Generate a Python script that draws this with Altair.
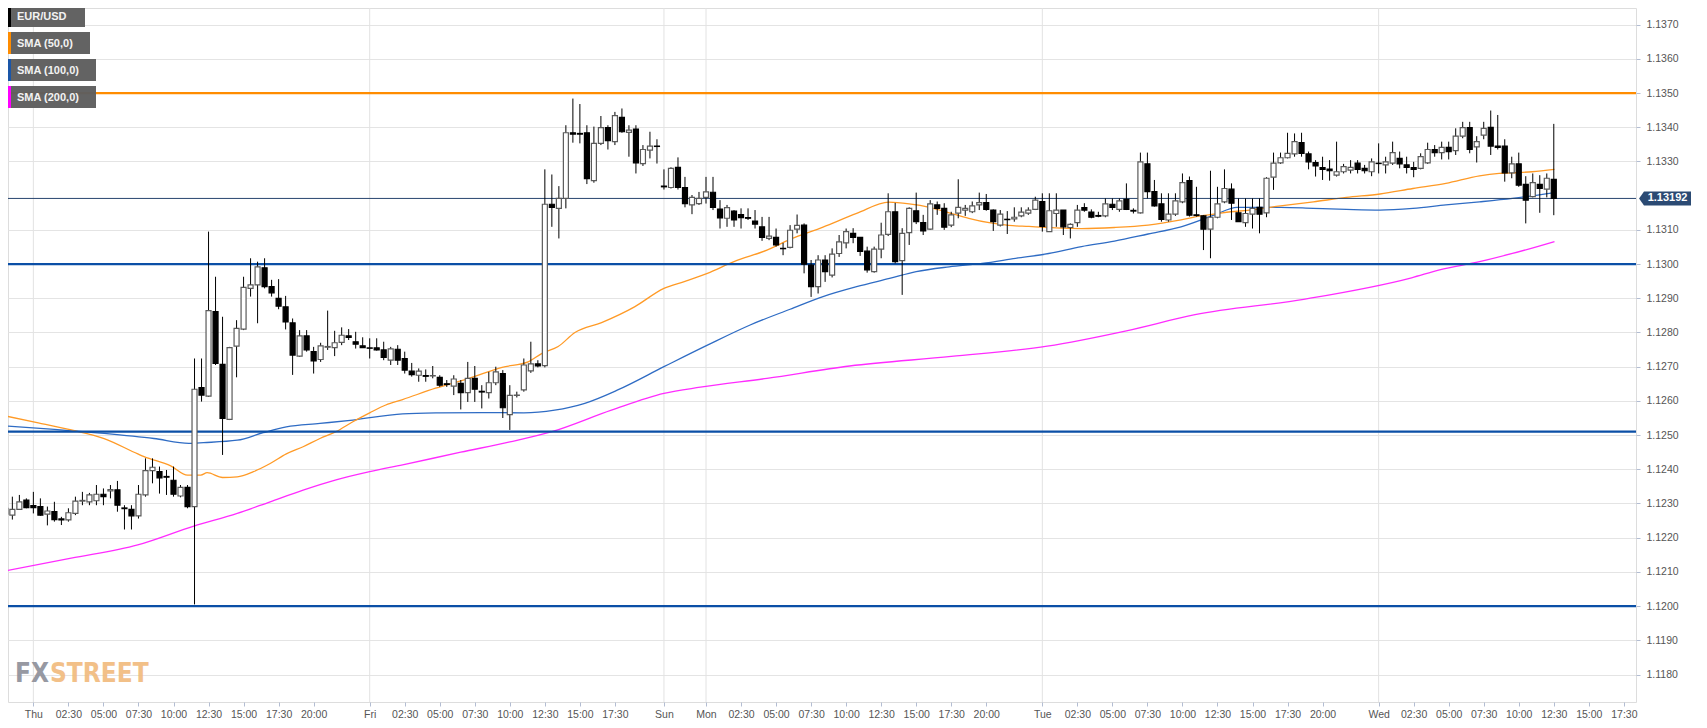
import altair as alt
import pandas as pd

# ---------------- data (30-minute EUR/USD candles) ----------------
OPEN = [1.12269,1.12266,1.12283,1.12310,1.12294,1.12291,1.12269,1.12276,1.12255,1.12252,
        1.12271,1.12307,1.12305,1.12308,1.12327,1.12337,1.12340,1.12287,1.12283,1.12264,
        1.12325,1.12396,1.12393,1.12379,1.12368,1.12322,1.12347,1.12291,1.12639,1.12614,
        1.12861,1.12707,1.12546,1.12760,1.12810,1.12929,1.12939,1.12989,1.12934,1.12900,
        1.12875,1.12828,1.12731,1.12790,1.12744,1.12721,1.12757,1.12756,1.12771,1.12790,
        1.12773,1.12761,1.12755,1.12755,1.12749,1.12719,1.12751,1.12724,1.12687,1.12675,
        1.12674,1.12673,1.12669,1.12650,1.12643,1.12651,1.12624,1.12666,1.12628,1.12624,
        1.12653,1.12680,1.12560,1.12616,1.12632,1.12688,1.12708,1.12703,1.13175,1.13163,
        1.13192,1.13384,1.13382,1.13384,1.13244,1.13353,1.13399,1.13358,1.13429,1.13385,
        1.13395,1.13294,1.13333,1.13345,1.13228,1.13224,1.13283,1.13224,1.13173,1.13177,
        1.13195,1.13210,1.13161,1.13134,1.13155,1.13145,1.13136,1.13126,1.13109,1.13075,
        1.13078,1.13046,1.13049,1.13102,1.13114,1.12997,1.12934,1.13012,1.12968,1.13031,
        1.13062,1.13090,1.13078,1.13038,1.12978,1.13044,1.13087,1.13153,1.13010,1.13092,
        1.13156,1.13121,1.13102,1.13173,1.13163,1.13114,1.13149,1.13158,1.13153,1.13173,
        1.13180,1.13158,1.13114,1.13131,1.13132,1.13141,1.13149,1.13160,1.13183,1.13095,
        1.13148,1.13158,1.13107,1.13121,1.13165,1.13152,1.13142,1.13141,1.13175,1.13160,
        1.13189,1.13157,1.13150,1.13293,1.13212,1.13176,1.13129,1.13146,1.13182,1.13244,
        1.13144,1.13141,1.13102,1.13137,1.13182,1.13219,1.13150,1.13121,1.13146,1.13166,
        1.13150,1.13254,1.13296,1.13311,1.13322,1.13355,1.13322,1.13297,1.13282,1.13278,
        1.13260,1.13270,1.13275,1.13295,1.13280,1.13270,1.13295,1.13290,1.13295,1.13309,
        1.13290,1.13282,1.13280,1.13296,1.13335,1.13326,1.13341,1.13332,1.13374,1.13399,
        1.13343,1.13377,1.13400,1.13345,1.13345,1.13267,1.13293,1.13233,1.13197,1.13233,
        1.13219,1.13248]
HIGH = [1.12295,1.12320,1.12325,1.12315,1.12334,1.12315,1.12291,1.12305,1.12261,1.12286,
        1.12320,1.12334,1.12331,1.12354,1.12344,1.12354,1.12366,1.12295,1.12295,1.12354,
        1.12432,1.12432,1.12408,1.12398,1.12408,1.12354,1.12354,1.12724,1.12724,1.13095,
        1.12963,1.12846,1.12758,1.12836,1.12963,1.13017,1.13007,1.13017,1.12954,1.12956,
        1.12907,1.12841,1.12807,1.12807,1.12758,1.12770,1.12864,1.12805,1.12815,1.12810,
        1.12802,1.12786,1.12783,1.12783,1.12773,1.12758,1.12763,1.12744,1.12711,1.12695,
        1.12692,1.12702,1.12675,1.12661,1.12675,1.12661,1.12714,1.12702,1.12646,1.12685,
        1.12700,1.12690,1.12646,1.12627,1.12724,1.12773,1.12719,1.13277,1.13262,1.13228,
        1.13406,1.13484,1.13468,1.13406,1.13402,1.13433,1.13406,1.13445,1.13455,1.13406,
        1.13406,1.13348,1.13387,1.13365,1.13277,1.13283,1.13312,1.13255,1.13202,1.13211,
        1.13255,1.13255,1.13187,1.13173,1.13158,1.13163,1.13163,1.13158,1.13138,1.13138,
        1.13104,1.13062,1.13114,1.13145,1.13119,1.13012,1.13026,1.13026,1.13046,1.13085,
        1.13104,1.13105,1.13078,1.13051,1.13051,1.13121,1.13207,1.13179,1.13105,1.13166,
        1.13209,1.13144,1.13187,1.13183,1.13178,1.13153,1.13248,1.13173,1.13183,1.13209,
        1.13205,1.13160,1.13158,1.13155,1.13166,1.13166,1.13166,1.13197,1.13207,1.13207,
        1.13207,1.13158,1.13119,1.13173,1.13178,1.13160,1.13153,1.13192,1.13192,1.13192,
        1.13236,1.13163,1.13326,1.13326,1.13246,1.13207,1.13207,1.13207,1.13265,1.13256,
        1.13226,1.13143,1.13273,1.13226,1.13277,1.13236,1.13192,1.13192,1.13192,1.13192,
        1.13254,1.13326,1.13326,1.13384,1.13382,1.13384,1.13329,1.13304,1.13314,1.13304,
        1.13358,1.13293,1.13304,1.13304,1.13290,1.13309,1.13353,1.13314,1.13358,1.13329,
        1.13314,1.13299,1.13324,1.13355,1.13348,1.13358,1.13358,1.13397,1.13416,1.13416,
        1.13374,1.13416,1.13449,1.13436,1.13365,1.13314,1.13326,1.13257,1.13265,1.13260,
        1.13265,1.13410]
LOW = [1.12256,1.12253,1.12281,1.12286,1.12271,1.12264,1.12236,1.12247,1.12237,1.12247,
       1.12266,1.12295,1.12295,1.12295,1.12295,1.12315,1.12276,1.12224,1.12224,1.12256,
       1.12320,1.12359,1.12329,1.12325,1.12320,1.12318,1.12286,1.12005,1.12598,1.12612,
       1.12705,1.12442,1.12544,1.12669,1.12807,1.12905,1.12827,1.12929,1.12905,1.12868,
       1.12809,1.12676,1.12729,1.12744,1.12680,1.12714,1.12749,1.12731,1.12763,1.12778,
       1.12753,1.12755,1.12724,1.12747,1.12719,1.12705,1.12705,1.12680,1.12671,1.12656,
       1.12656,1.12666,1.12641,1.12641,1.12617,1.12575,1.12597,1.12597,1.12578,1.12607,
       1.12646,1.12550,1.12515,1.12610,1.12627,1.12682,1.12698,1.12698,1.13109,1.13075,
       1.13163,1.13355,1.13353,1.13234,1.13238,1.13348,1.13335,1.13348,1.13384,1.13314,
       1.13265,1.13287,1.13309,1.13294,1.13218,1.13221,1.13218,1.13166,1.13146,1.13173,
       1.13177,1.13158,1.13104,1.13109,1.13109,1.13104,1.13129,1.13104,1.13068,1.13070,
       1.13051,1.13026,1.13046,1.13090,1.12973,1.12904,1.12914,1.12948,1.12961,1.13021,
       1.13046,1.13061,1.13024,1.12975,1.12975,1.13017,1.13082,1.13002,1.12910,1.13056,
       1.13117,1.13085,1.13100,1.13144,1.13100,1.13108,1.13134,1.13141,1.13149,1.13158,
       1.13156,1.13097,1.13110,1.13088,1.13124,1.13137,1.13144,1.13158,1.13095,1.13095,
       1.13109,1.13085,1.13075,1.13109,1.13153,1.13134,1.13137,1.13137,1.13158,1.13153,
       1.13158,1.13148,1.13148,1.13192,1.13168,1.13124,1.13124,1.13141,1.13178,1.13139,
       1.13139,1.13041,1.13017,1.13134,1.13178,1.13129,1.13124,1.13109,1.13104,1.13090,
       1.13137,1.13217,1.13293,1.13309,1.13314,1.13314,1.13277,1.13256,1.13246,1.13244,
       1.13256,1.13265,1.13265,1.13265,1.13265,1.13257,1.13265,1.13265,1.13290,1.13280,
       1.13265,1.13254,1.13277,1.13293,1.13314,1.13306,1.13306,1.13319,1.13368,1.13324,
       1.13297,1.13365,1.13319,1.13335,1.13241,1.13251,1.13226,1.13119,1.13195,1.13150,
       1.13195,1.13143]
CLOSE = [1.12286,1.12283,1.12305,1.12288,1.12288,1.12266,1.12278,1.12253,1.12252,1.12273,
         1.12307,1.12309,1.12325,1.12327,1.12320,1.12341,1.12295,1.12285,1.12264,1.12327,
         1.12396,1.12406,1.12375,1.12377,1.12327,1.12347,1.12291,1.12634,1.12617,1.12864,
         1.12710,1.12549,1.12756,1.12812,1.12932,1.12939,1.12992,1.12934,1.12916,1.12877,
         1.12831,1.12734,1.12790,1.12749,1.12717,1.12761,1.12759,1.12770,1.12792,1.12786,
         1.12766,1.12756,1.12754,1.12749,1.12727,1.12752,1.12719,1.12690,1.12677,1.12687,
         1.12672,1.12674,1.12646,1.12648,1.12664,1.12624,1.12666,1.12634,1.12626,1.12653,
         1.12685,1.12580,1.12616,1.12617,1.12705,1.12708,1.12702,1.13175,1.13166,1.13192,
         1.13384,1.13380,1.13380,1.13250,1.13353,1.13399,1.13361,1.13434,1.13387,1.13392,
         1.13296,1.13335,1.13345,1.13344,1.13226,1.13280,1.13224,1.13177,1.13195,1.13192,
         1.13211,1.13166,1.13135,1.13165,1.13129,1.13136,1.13134,1.13117,1.13078,1.13082,
         1.13056,1.13045,1.13099,1.13113,1.13000,1.12934,1.13012,1.12978,1.13029,1.13065,
         1.13095,1.13078,1.13037,1.12983,1.13044,1.13085,1.13153,1.13007,1.13090,1.13163,
         1.13124,1.13097,1.13176,1.13163,1.13108,1.13144,1.13166,1.13163,1.13170,1.13180,
         1.13160,1.13124,1.13146,1.13130,1.13137,1.13152,1.13158,1.13187,1.13110,1.13156,
         1.13158,1.13109,1.13116,1.13158,1.13158,1.13137,1.13140,1.13176,1.13166,1.13185,
         1.13160,1.13155,1.13299,1.13212,1.13170,1.13131,1.13146,1.13185,1.13238,1.13143,
         1.13142,1.13102,1.13137,1.13176,1.13221,1.13178,1.13124,1.13148,1.13163,1.13146,
         1.13251,1.13295,1.13311,1.13324,1.13358,1.13324,1.13299,1.13287,1.13277,1.13273,
         1.13270,1.13285,1.13283,1.13277,1.13273,1.13299,1.13294,1.13299,1.13326,1.13293,
         1.13283,1.13277,1.13314,1.13335,1.13326,1.13341,1.13329,1.13374,1.13399,1.13335,
         1.13358,1.13397,1.13345,1.13341,1.13267,1.13293,1.13231,1.13187,1.13238,1.13221,
         1.13251,1.13192]

# moving averages (x = candle number)
SMA50_X = [0,4.7,9.4,14.1,18.9,19.8,23.6,26.0,27.9,28.8,31.0,33.1,35.4,37.8,40.1,42.5,44.9,47.2,
           49.6,52.0,54.3,56.7,61.4,66.2,70.9,74.7,76.6,78.9,81.3,85.1,89.8,94.0,96.9,100.2,104,
           108.7,112.0,116.7,121.5,126.1,129.0,131.9,134.7,137.5,140.4,143.2,146.1,148.9,153.6,
           158.3,163.1,167.8,170.6,172.5,174.9,177.3,182.0,186.7,191.4,196.2,200.9,205.6,210.4,
           213.2,215.1,217.9,221.1]
SMA50_Y = [1.12556,1.12536,1.12515,1.12490,1.12445,1.12437,1.12410,1.12383,1.12383,1.12390,
           1.12376,1.12378,1.12393,1.12417,1.12445,1.12466,1.12490,1.12510,1.12539,1.12565,
           1.12588,1.12604,1.12637,1.12666,1.12698,1.12715,1.12739,1.12759,1.12800,1.12829,
           1.12875,1.12929,1.12949,1.12973,1.13007,1.13041,1.13072,1.13108,1.13148,1.13181,
           1.13176,1.13166,1.13150,1.13134,1.13121,1.13113,1.13110,1.13107,1.13104,1.13107,
           1.13114,1.13129,1.13141,1.13146,1.13153,1.13157,1.13170,1.13182,1.13195,1.13205,
           1.13221,1.13236,1.13258,1.13265,1.13267,1.13270,1.13277]
SMA100_X = [0,7.0,14.1,21.2,26.2,28.3,33.1,36.8,40.1,44.9,49.6,56.7,62,68,74,78.4,82.7,87.4,
            94.0,100.2,106.3,112.0,116.7,121.5,126.2,130.0,134.7,139.4,144.2,148.9,153.6,158.3,
            163.1,167.8,172.5,175.8,179.6,182.0,186.7,191.4,196.2,200.9,205.6,210.4,215.1,221.1]
SMA100_Y = [1.12527,1.12517,1.12505,1.12490,1.12476,1.12478,1.12485,1.12507,1.12524,1.12534,
            1.12544,1.12562,1.12565,1.12566,1.12565,1.12573,1.12593,1.12632,1.12700,1.12763,
            1.12822,1.12868,1.12905,1.12934,1.12958,1.12978,1.12992,1.13002,1.13017,1.13031,
            1.13051,1.13067,1.13088,1.13109,1.13143,1.13166,1.13166,1.13166,1.13163,1.13160,
            1.13158,1.13163,1.13173,1.13182,1.13192,1.13209]
SMA200_X = [0,9.4,18.9,26.9,33.1,37.8,42.5,47.2,52.0,56.7,65,72,78,86.5,94.0,99.2,108.7,120.5,
            135,148.7,160,169.8,185.3,200.7,204.7,210.4,215.1,221.1]
SMA200_Y = [1.12103,1.12140,1.12179,1.12234,1.12271,1.12305,1.12339,1.12369,1.12393,1.12413,
            1.12450,1.12480,1.12510,1.12573,1.12622,1.12640,1.12666,1.12702,1.12730,1.12760,
            1.12805,1.12852,1.12897,1.12960,1.12983,1.13007,1.13031,1.13066]

BLUE_LEVELS = [1.1300, 1.1251, 1.1200]
ORANGE_LEVELS = [1.1350]
LAST_PRICE = [1.13192]
LAST_LABEL = ["1.13192"]
DAY_IDX = [4, 52, 94, 100, 148, 196]

TICK_IDX = [4, 9, 14, 19, 24, 29, 34, 39, 44,
            52, 57, 62, 67, 72, 77, 82, 87,
            94,
            100, 105, 110, 115, 120, 125, 130, 135, 140,
            148, 153, 158, 163, 168, 173, 178, 183, 188,
            196, 201, 206, 211, 216, 221, 226, 231]
TICK_LABELS = ["Thu", "02:30", "05:00", "07:30", "10:00", "12:30", "15:00", "17:30", "20:00",
               "Fri", "02:30", "05:00", "07:30", "10:00", "12:30", "15:00", "17:30",
               "Sun",
               "Mon", "02:30", "05:00", "07:30", "10:00", "12:30", "15:00", "17:30", "20:00",
               "Tue", "02:30", "05:00", "07:30", "10:00", "12:30", "15:00", "17:30", "20:00",
               "Wed", "02:30", "05:00", "07:30", "10:00", "12:30", "15:00", "17:30"]
# 1.1320 is hidden behind the last-price tag in the reference
Y_TICKS = [1.1180, 1.1190, 1.1200, 1.1210, 1.1220, 1.1230, 1.1240, 1.1250, 1.1260, 1.1270,
           1.1280, 1.1290, 1.1300, 1.1310, 1.1330, 1.1340, 1.1350, 1.1360, 1.1370]

LEGEND_LABELS = ["EUR/USD", "SMA (50,0)", "SMA (100,0)", "SMA (200,0)"]
LEGEND_COLORS = ["#000000", "#ff8c00", "#1a56a8", "#ff00ff"]

# ---------------- layout / style ----------------
W, H = 1628, 694
X_DOMAIN = [1.092, 232.02]
Y_DOMAIN = [1.117196, 1.137488]
FONT = "Liberation Sans"

xs = alt.Scale(domain=X_DOMAIN, nice=False, zero=False)
ys = alt.Scale(domain=Y_DOMAIN, nice=False, zero=False)

label_expr = ("[" + ",".join("'%s'" % t for t in TICK_LABELS) + "][indexof(["
              + ",".join(str(v) for v in TICK_IDX) + "], datum.value)]")
x_axis = alt.Axis(values=TICK_IDX, labelExpr=label_expr, grid=False, domain=False,
                  tickColor="#b3bdd2", tickSize=4, labelColor="#555555", labelFont=FONT,
                  labelFontSize=10.5, labelPadding=3, labelFlush=False, labelOverlap=False,
                  labelBound=False, title=None)
y_axis = alt.Axis(orient="right", values=Y_TICKS, format=".4f", grid=True, gridColor="#e4e4e4",
                  gridWidth=1, domain=False, tickColor="#b3bdd2", tickSize=4,
                  labelColor="#555555", labelFont=FONT, labelFontSize=10.5, labelPadding=6,
                  labelOverlap=False, title=None)


def X(field):
    return alt.X(field + ":Q", scale=xs, axis=x_axis, title=None)


def Y(field):
    return alt.Y(field + ":Q", scale=ys, axis=y_axis, title=None)


candles = pd.DataFrame({"i": list(range(len(OPEN))), "open": OPEN, "high": HIGH,
                        "low": LOW, "close": CLOSE})

day_df = pd.DataFrame({"d": DAY_IDX})
day_rules = alt.Chart(day_df).mark_rule(color="#e2e2e2", strokeWidth=1).encode(x=X("d"))

blue_lv = alt.Chart(pd.DataFrame({"p": BLUE_LEVELS})).mark_rule(
    color="#0b4fa6", strokeWidth=2.2).encode(y=Y("p"))
orange_lv = alt.Chart(pd.DataFrame({"p": ORANGE_LEVELS})).mark_rule(
    color="#ff8c00", strokeWidth=2.2).encode(y=Y("p"))
last_lv = alt.Chart(pd.DataFrame({"p": LAST_PRICE})).mark_rule(
    color="#27456f", strokeWidth=1).encode(y=Y("p"))

sma200 = alt.Chart(pd.DataFrame({"x": SMA200_X, "y": SMA200_Y})).mark_line(
    color="#ff2cff", strokeWidth=1.3, interpolate="monotone", clip=True).encode(x=X("x"), y=Y("y"))
sma100 = alt.Chart(pd.DataFrame({"x": SMA100_X, "y": SMA100_Y})).mark_line(
    color="#2f6cc4", strokeWidth=1.3, interpolate="monotone", clip=True).encode(x=X("x"), y=Y("y"))
sma50 = alt.Chart(pd.DataFrame({"x": SMA50_X, "y": SMA50_Y})).mark_line(
    color="#ff9a26", strokeWidth=1.3, interpolate="monotone", clip=True).encode(x=X("x"), y=Y("y"))

wicks = alt.Chart(candles).mark_rule(color="#000000", strokeWidth=1, clip=True).encode(
    x=X("i"), y=Y("low"), y2="high")
bodies = alt.Chart(candles).mark_bar(size=5, strokeWidth=1.2, clip=True).encode(
    x=X("i"), y=Y("open"), y2="close",
    fill=alt.condition("datum.close >= datum.open", alt.value("#ffffff"), alt.value("#000000")),
    stroke=alt.condition("datum.close >= datum.open", alt.value("#5a5a5a"), alt.value("#000000")),
)

# price tag on the right axis
tag_df = pd.DataFrame({"p": LAST_PRICE, "t": LAST_LABEL})
tag_box = alt.Chart(tag_df).mark_point(
    shape="M-1.21,0 L-1,-0.3 L1,-0.3 L1,0.3 L-1,0.3 Z", size=47 * 47, filled=True,
    color="#2b4a73", opacity=1).encode(x=alt.value(W + 31.5), y=Y("p"))
tag_txt = alt.Chart(tag_df).mark_text(
    color="white", font=FONT, fontSize=11, fontWeight="bold", align="center",
    baseline="middle").encode(x=alt.value(W + 31.5), y=Y("p"), text="t:N")

# legend boxes (top-left)
BOX_W = [77, 82, 88, 88]
legend_layers = []
for k, (lab, col) in enumerate(zip(LEGEND_LABELS, LEGEND_COLORS)):
    top = -3 + 27 * k
    one = pd.DataFrame({"t": [lab]})
    legend_layers.append(alt.Chart(one).mark_rect(color="#5e5e5e", opacity=0.97).encode(
        x=alt.value(0), x2=alt.value(BOX_W[k]), y=alt.value(top), y2=alt.value(top + 22)))
    legend_layers.append(alt.Chart(one).mark_rect(color=col).encode(
        x=alt.value(0), x2=alt.value(3), y=alt.value(top), y2=alt.value(top + 22)))
    legend_layers.append(alt.Chart(one).mark_text(
        color="#f2f2f2", font=FONT, fontSize=11, fontWeight="bold", align="left",
        baseline="middle").encode(x=alt.value(9), y=alt.value(top + 11.5), text="t:N"))

# watermark
WM_FONT = "Liberation Sans Narrow, DejaVu Sans Condensed, Liberation Sans"
wm1 = alt.Chart(pd.DataFrame({"t": ["FX"]})).mark_text(
    color="#8c8e98", font=WM_FONT, fontSize=26, fontWeight="bold", align="left",
    baseline="alphabetic", opacity=0.9).encode(x=alt.value(7), y=alt.value(674), text="t:N")
wm2 = alt.Chart(pd.DataFrame({"t": ["STREET"]})).mark_text(
    color="#f1ba7c", font=WM_FONT, fontSize=26, fontWeight="bold", align="left",
    baseline="alphabetic", opacity=0.9).encode(x=alt.value(42), y=alt.value(674), text="t:N")

chart = alt.layer(
    day_rules, wm1, wm2, sma200, sma100, sma50, blue_lv, orange_lv, last_lv,
    wicks, bodies, tag_box, tag_txt, *legend_layers
).properties(
    width=W, height=H,
    padding={"left": 0, "top": 0, "right": 63, "bottom": 18},
    autosize=alt.AutoSizeParams(type="none"),
).configure_view(
    fill="#f7f7f7", stroke="#c6cee0", strokeWidth=1
).configure(background="white")

chart.save("out.html", embed_options={"renderer": "svg", "actions": False})
